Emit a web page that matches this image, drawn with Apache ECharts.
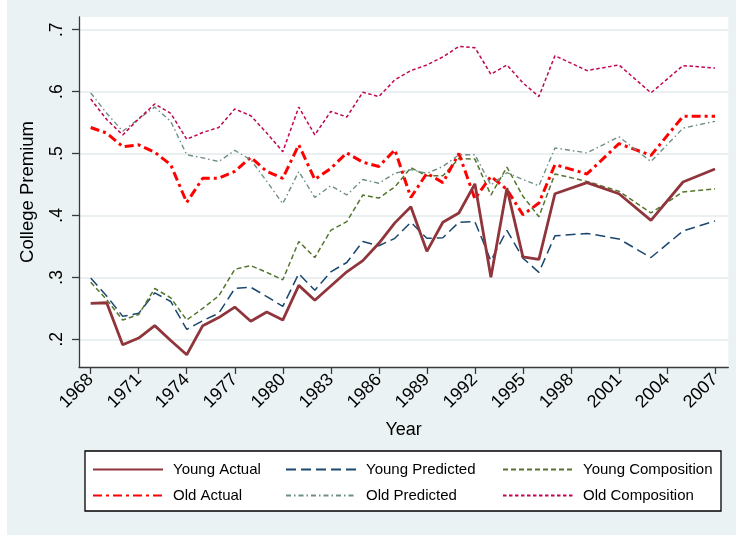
<!DOCTYPE html>
<html>
<head>
<meta charset="utf-8">
<script src="https://cdn.jsdelivr.net/npm/echarts@6.0.0/dist/echarts.min.js"></script>
<style>
  html, body { margin: 0; padding: 0; background: #fff; }
  #main { position: absolute; left: 7px; top: 0; width: 729px; height: 535px; }
</style>
</head>
<body>
<div id="main"></div>
<script>
// survey years (annual to 1997, then every other year)
var years = [1968, 1969, 1970, 1971, 1972, 1973, 1974, 1975, 1976, 1977,
	1978, 1979, 1980, 1981, 1982, 1983, 1984, 1985, 1986, 1987,
	1988, 1989, 1990, 1991, 1992, 1993, 1994, 1995, 1996, 1997,
	1999, 2001, 2003, 2005, 2007];

var youngActual = [.258, .259, .191, .202, .222, .198, .175, .222, .235, .252,
	.229, .244, .231, .287, .263, .286, .309, .327, .355, .388,
	.414, .342, .389, .404, .451, .300, .444, .333, .329, .435,
	.453, .435, .392, .454, .475];
var youngPredicted = [.299, .270, .237, .242, .275, .261, .216, .230, .242, .282,
	.284, .269, .253, .306, .279, .309, .324, .358, .351, .363,
	.389, .363, .364, .389, .390, .327, .376, .331, .308, .367,
	.371, .362, .332, .375, .391];
var youngComposition = [.292, .264, .231, .240, .282, .267, .231, .250, .270, .313,
	.319, .308, .296, .358, .332, .376, .390, .433, .428, .446,
	.477, .464, .464, .492, .491, .433, .478, .431, .398, .467,
	.455, .439, .404, .438, .443];
var oldActual = [.542, .533, .511, .514, .502, .482, .421, .460, .460, .471,
	.494, .471, .460, .514, .458, .476, .501, .486, .479, .506,
	.429, .468, .453, .500, .427, .463, .442, .401, .420, .482,
	.467, .516, .497, .560, .560];
var oldPredicted = [.598, .565, .536, .556, .575, .552, .498, .493, .487, .505,
	.490, .455, .419, .471, .429, .448, .433, .458, .452, .468,
	.474, .468, .479, .498, .498, .449, .469, .458, .448, .509,
	.501, .527, .487, .541, .552];
var oldComposition = [.588, .555, .530, .556, .580, .565, .523, .534, .542, .572,
	.561, .533, .503, .575, .530, .568, .559, .599, .592, .619,
	.634, .643, .656, .673, .671, .628, .643, .614, .592, .658,
	.634, .643, .598, .642, .638];

var xTicks = [1968, 1971, 1974, 1977, 1980, 1983, 1986, 1989, 1992, 1995, 1998, 2001, 2004, 2007];
var yTicks = [0.2, 0.3, 0.4, 0.5, 0.6, 0.7];

var font = '"Liberation Sans", Arial, sans-serif';

function pairs(vals) {
	var out = [];
	for (var i = 0; i < years.length; i++) {
		out.push([years[i], vals[i]]);
	}
	return out;
}

function line(name, vals, color, width, dash, z) {
	return {
		name: name,
		type: 'line',
		symbol: 'none',
		z: z,
		data: pairs(vals),
		lineStyle: { color: color, width: width, type: dash },
		itemStyle: { color: color }
	};
}

function legendCol(left, names) {
	return {
		orient: 'vertical',
		left: left,
		top: 462,
		padding: 0,
		itemWidth: 70,
		itemHeight: 14,
		itemGap: 11,
		selectedMode: false,
		// hide the marker dot, keep only the line sample
		itemStyle: { opacity: 0 },
		data: names,
		textStyle: { fontFamily: font, fontSize: 15, color: '#000', lineHeight: 14, padding: [0, 0, 0, 5] }
	};
}

var myChart = echarts.init(document.getElementById('main'));
var option = {
	animation: false,
	backgroundColor: '#EAF2F3',
	grid: {
		left: 72, right: 7.7, top: 17, bottom: 168,
		show: true, backgroundColor: '#fff', borderWidth: 0
	},
	graphic: [{
		type: 'rect',
		z: 1,
		shape: { x: 78, y: 451, width: 636, height: 60 },
		style: { fill: '#fff', stroke: '#000', lineWidth: 1.3 }
	}],
	legend: [
		legendCol(85, ['Young Actual', 'Old Actual']),
		legendCol(278, ['Young Predicted', 'Old Predicted']),
		legendCol(495, ['Young Composition', 'Old Composition'])
	],
	xAxis: {
		type: 'value',
		min: 1967.27,
		max: 2007.83,
		name: 'Year',
		nameLocation: 'middle',
		nameGap: 54,
		nameTextStyle: { fontFamily: font, fontSize: 18, color: '#000' },
		axisLine: { onZero: false, lineStyle: { color: '#3a3a3a', width: 1.3 } },
		axisTick: { length: 7, customValues: xTicks, lineStyle: { color: '#3a3a3a', width: 1.3 } },
		axisLabel: {
			customValues: xTicks,
			rotate: 45,
			margin: 10,
			fontFamily: font,
			fontSize: 18,
			color: '#000',
			formatter: function (v) { return String(v); }
		},
		splitLine: { show: false }
	},
	yAxis: {
		type: 'value',
		min: 0.1552,
		max: 0.7205,
		name: 'College Premium',
		nameLocation: 'middle',
		nameRotate: 90,
		nameGap: 42,
		nameTextStyle: { fontFamily: font, fontSize: 18.5, color: '#000' },
		axisLine: { show: true, onZero: false, lineStyle: { color: '#3a3a3a', width: 1.3 } },
		axisTick: { show: true, length: 7, customValues: yTicks, lineStyle: { color: '#3a3a3a', width: 1.3 } },
		axisLabel: {
			customValues: yTicks,
			rotate: 90,
			margin: 13,
			fontFamily: font,
			fontSize: 17.5,
			color: '#000',
			formatter: function (v) { return v.toFixed(1).replace('0.', '.'); }
		},
		splitLine: { show: true, lineStyle: { color: '#E3EBEE', width: 1.5 } }
	},
	series: [
		line('Young Actual', youngActual, '#90353B', 2.8, 'solid', 8),
		line('Young Predicted', youngPredicted, '#1A476F', 1.5, [10, 5], 3),
		line('Young Composition', youngComposition, '#55752F', 1.5, [5, 3], 3),
		line('Old Actual', oldActual, '#FF0000', 3, [9, 4, 3, 4], 4),
		line('Old Predicted', oldPredicted, '#6E8E84', 1.4, [5, 3, 1.5, 3], 5),
		line('Old Composition', oldComposition, '#C10552', 1.5, [3.5, 2.5], 6)
	]
};
myChart.setOption(option);
</script>
</body>
</html>
